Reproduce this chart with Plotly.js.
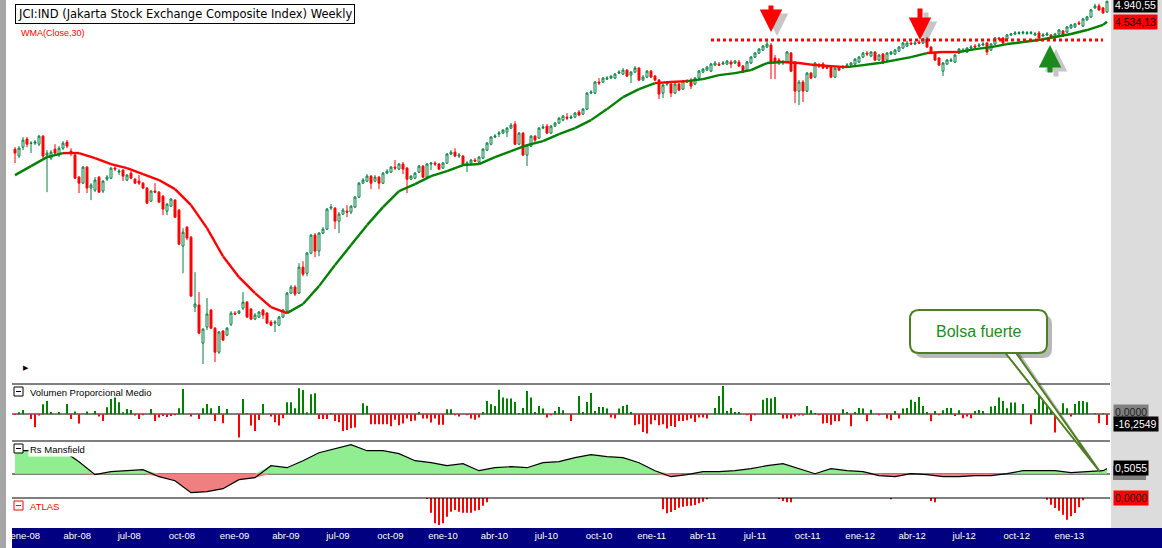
<!DOCTYPE html>
<html><head><meta charset="utf-8">
<script src="https://cdn.plot.ly/plotly-3.0.1.min.js"></script>
<style>html,body{margin:0;padding:0;background:#fff;}#chart{width:1162px;height:548px;}</style>
</head><body><div id="chart"></div>
<script>
// ---------- DATA (weekly) ----------
const firstWeek = '2007-12-14';
const open = [2659,2583,2681,2774,2722,2727,2715,2808,2594,2561,
2659,2594,2670,2739,2637,2594,2365,2306,2466,2259,
2240,2365,2231,2345,2355,2456,2415,2435,2336,2405,
2345,2326,2306,2259,2139,2231,2221,2184,2051,2094,
2148,2060,1772,1918,1839,1372,1384,1180,1262,1355,
1256,1136,1241,1220,1277,1338,1338,1366,1401,1361,
1305,1316,1355,1338,1288,1283,1272,1316,1349,
1455,1492,1455,1622,1581,1720,1855,1735,1871,1902,
2077,2077,1967,2026,2051,2043,2086,2175,2306,2326,
2375,2326,2365,2306,2405,2415,2466,2446,2498,2456,
2345,2355,2415,2477,2365,2498,2508,2498,2456,2508,
2605,2626,2583,2583,2498,2508,2540,2519,2561,2648,
2715,2797,2832,2844,2856,2904,2953,2715,2844,2594,
2693,2808,2785,2904,2928,2844,2928,2966,
3003,3041,3028,3041,3106,3080,3145,3363,3363,3522,
3522,3566,3581,3581,3657,3641,3703,3626,3672,3734,
3551,3596,3687,3611,3551,3363,3493,3493,3363,3493,
3420,3522,3551,3493,3581,3672,3703,3687,3782,3798,
3798,3798,3830,3814,3830,3766,3703,3814,3911,3977,
4027,4078,4112,3895,3862,3814,3830,3977,3830,3391,
3522,3391,3657,3596,3782,3798,3750,3750,3596,3750,
3734,3766,3782,3798,3830,3911,3977,3928,3994,3862,
3960,3862,3960,3960,4010,4061,4095,4147,4130,4165,
4147,4218,4078,3977,3895,3687,3798,3846,3830,3977,
4010,3994,4061,4095,4095,4112,4147,4027,4130,4236,
4236,4218,4290,4308,4318,4322,4316,4320,4290,4326,
4271,4290,4290,4236,4308,4362,4344,4418,4437,4513,
4456,4570,4628,4805,4845,4805,4726];
const high = [2681,2693,2797,2797,2750,2762,2820,2820,2648,2648,
2715,2693,2750,2762,2670,2605,2375,2477,2477,2306,
2365,2375,2336,2385,2466,2477,2446,2446,2395,2425,
2355,2385,2316,2268,2240,2306,2231,2193,2121,2166,
2157,2069,1910,1926,1847,1588,1461,1256,1425,1361,
1262,1241,1246,1262,1349,1349,1355,1461,1407,1366,
1338,1349,1361,1344,1299,1299,1322,1361,1461,
1504,1504,1649,1663,1727,1863,1871,1878,1918,2077,
2112,2086,2043,2077,2103,2103,2184,2316,2355,2395,
2385,2385,2375,2415,2446,2477,2540,2508,2519,2466,
2385,2415,2487,2487,2508,2519,2529,2508,2519,2616,
2648,2670,2616,2594,2529,2551,2561,2583,2670,2739,
2808,2832,2868,2892,2916,2966,2990,2856,2856,2715,
2820,2820,2916,2953,2953,2941,2978,3041,
3067,3093,3067,3106,3132,3159,3377,3405,3536,3581,
3596,3611,3626,3657,3703,3734,3718,3687,3766,3750,
3626,3703,3703,3626,3566,3493,3536,3507,3507,3507,
3551,3566,3581,3596,3703,3734,3766,3814,3846,3830,
3846,3862,3862,3862,3862,3782,3846,3928,3994,4061,
4112,4183,4147,3944,3895,3862,4010,3994,3846,3551,
3551,3672,3672,3830,3814,3830,3782,3766,3766,3766,
3782,3814,3830,3895,3928,3994,4010,4010,4010,3960,
3977,3994,4010,4044,4095,4165,4183,4165,4183,4200,
4236,4253,4095,3994,3911,3830,3878,3895,3960,4061,
4061,4078,4112,4130,4147,4165,4165,4147,4253,4253,
4253,4308,4326,4362,4358,4366,4360,4364,4344,4362,
4326,4344,4308,4326,4399,4380,4456,4494,4513,4551,
4608,4647,4785,4890,4890,4825,4950];
const low = [2508,2561,2648,2681,2616,2704,2693,2561,2221,2540,
2594,2572,2648,2670,2583,2345,2212,2297,2212,2148,
2221,2212,2212,2326,2345,2425,2385,2326,2326,2345,
2297,2287,2249,2112,2130,2212,2121,2017,2017,2086,
1992,1779,1581,1816,1431,1344,1225,1081,1246,1251,
1090,1127,1190,1215,1267,1327,1333,1355,1310,1299,
1299,1310,1305,1277,1267,1236,1267,1310,1344,
1449,1437,1449,1561,1561,1712,1691,1698,1863,1894,
2060,1902,1871,2017,2000,2026,2077,2166,2297,2316,
2249,2316,2249,2297,2395,2405,2435,2435,2395,2212,
2336,2345,2405,2355,2355,2435,2477,2435,2446,2498,
2594,2572,2561,2487,2415,2498,2519,2508,2551,2637,
2704,2785,2797,2832,2797,2892,2704,2704,2583,2477,
2681,2715,2774,2892,2832,2832,2916,2953,
2990,3003,3016,3028,3054,3067,3132,3349,3349,3478,
3507,3551,3566,3566,3641,3626,3596,3507,3657,3536,
3536,3581,3581,3536,3280,3293,3463,3307,3349,3391,
3405,3507,3420,3478,3566,3657,3687,3672,3766,3766,
3782,3782,3734,3798,3750,3657,3687,3798,3895,3960,
4010,4061,3566,3566,3782,3782,3814,3672,3225,3198,
3239,3377,3566,3581,3734,3718,3718,3581,3581,3687,
3718,3750,3766,3782,3814,3895,3928,3911,3846,3846,
3798,3846,3944,3944,3994,4044,4078,4112,4112,4130,
4130,4061,3960,3846,3766,3611,3782,3830,3814,3960,
3994,3977,4044,4061,4078,4095,3944,4010,4112,4200,
4130,4200,4271,4290,4296,4300,4292,4298,4271,4218,
4253,4271,4218,4218,4290,4253,4326,4399,4418,4475,
4437,4551,4608,4785,4745,4687,4706];
const close = [2616,2670,2762,2715,2727,2739,2808,2583,2616,2626,
2616,2670,2727,2693,2616,2355,2306,2466,2259,2287,
2336,2221,2326,2365,2456,2446,2425,2375,2385,2355,
2306,2306,2259,2121,2231,2221,2130,2069,2112,2157,
2000,1786,1878,1832,1437,1390,1230,1251,1333,1256,
1136,1236,1195,1256,1338,1333,1349,1401,1316,1305,
1327,1344,1327,1283,1272,1288,1316,1355,1455,
1492,1449,1622,1575,1720,1855,1735,1871,1902,2069,
2086,1967,2026,2060,2043,2094,2175,2306,2336,2375,
2306,2365,2306,2405,2425,2466,2456,2498,2446,2345,
2375,2405,2477,2365,2498,2508,2498,2446,2508,2605,
2626,2583,2594,2498,2508,2540,2529,2572,2659,2727,
2797,2808,2844,2880,2904,2941,2715,2844,2594,2704,
2808,2762,2904,2916,2844,2928,2966,3028,
3054,3028,3041,3093,3067,3145,3363,3377,3522,3507,
3581,3581,3611,3641,3672,3703,3611,3672,3734,3551,
3596,3687,3596,3551,3349,3478,3507,3363,3493,3405,
3536,3536,3463,3581,3687,3718,3750,3798,3814,3782,
3814,3846,3798,3846,3766,3672,3830,3911,3977,4044,
4095,4130,3830,3830,3814,3830,3994,3687,3391,3522,
3391,3657,3581,3814,3766,3734,3734,3596,3734,3703,
3750,3782,3814,3878,3911,3977,3960,3994,3862,3944,
3814,3977,3994,4027,4078,4147,4147,4130,4147,4147,
4218,4078,3977,3862,3782,3814,3862,3862,3944,4044,
4027,4061,4078,4078,4112,4130,3994,4130,4236,4218,
4147,4290,4308,4326,4333,4340,4330,4336,4308,4236,
4290,4308,4236,4308,4380,4271,4437,4475,4494,4494,
4589,4628,4765,4845,4765,4706,4940.55];

// Volumen Proporcional Medio (weekly)
const volumeRatio = [-1.1,3.0,6.5,0,-7.1,-19.8,-2.0,15.2,20.2,3.5,
0,3.5,0,15.7,-7.1,4.1,-14.1,0,4.1,0,
5.0,-3.5,-10.2,10.6,23.3,25.4,18.2,3.0,8.1,6.5,
-2.0,-7.1,-1.5,0,8.1,-10.2,-5.0,-2.6,-4.1,-2.6,
-1.5,9.1,38.5,0,-3.5,0,-7.1,9.1,15.7,9.1,
-10.2,12.6,-13.7,8.1,0,0,-35.4,23.3,1.1,-17.2,
-25.4,-8.7,15.7,0,-3.5,-12.2,-17.2,-6.1,18.2,18.2,
9.1,39.5,36.9,3.0,30.4,31.9,-7.1,-7.1,-7.1,1.5,
-10.2,-12.2,-25.4,-23.9,-21.3,-20.2,0,16.7,13.2,-15.2,
-15.2,-15.2,-15.2,-15.2,-18.2,-8.1,-16.7,-14.1,-6.5,-10.6,
-9.6,3.5,-6.5,-6.5,-12.6,-6.5,-15.7,-15.7,7.6,7.6,
-1.5,-3.5,0,-1.5,-6.5,-8.1,-5.0,3.5,20.2,15.2,
12.6,37.5,25.4,23.9,23.9,18.7,2.0,9.6,35.4,25.4,
3.5,12.6,8.7,-5.0,-1.5,5.0,11.1,6.1,0,-10.2,
0,27.8,3.5,18.7,32.4,5.0,11.1,11.1,8.7,-5.0,
-6.5,8.7,12.6,14.7,3.5,-16.7,-15.2,-26.9,-29.3,-15.2,
-9.1,-16.7,-15.2,-21.7,-17.8,-19.3,-10.2,-10.2,-9.1,-6.5,
-11.7,-5.0,-5.0,-6.5,0,9.6,27.8,43.0,5.0,9.6,
3.5,3.5,0,-1.5,-10.2,-1.5,0,22.3,24.8,23.9,
26.3,2.0,-6.5,-6.5,-6.5,-3.5,-2.0,-2.0,12.6,6.1,
2.0,-1.5,-14.1,-13.2,-15.7,-10.6,-10.6,7.6,3.5,-18.2,
3.5,9.6,8.7,-10.6,7.1,0,-1.5,0,-6.5,-9.1,
5.0,-6.5,8.7,9.6,22.3,18.7,26.3,12.6,3.5,-10.6,
5.0,-1.5,6.1,9.6,9.6,-2.6,6.1,-6.1,-3.5,-6.1,
5.0,6.5,5.0,0,11.7,12.6,25.4,20.2,9.1,17.8,
17.8,0,15.7,0,-15.2,8.1,28.4,24.3,14.1,9.1,
-27.8,0,16.7,9.1,-3.5,15.7,20.2,20.2,18.2,0,
1.5,-13.7,1.5,-16.2549];

// WMA(Close,30) and Rs Mansfield, read every 4th week (last = final week)
const sampleStep = 4;
const wma30 = [2385,2477,2572,2616,2616,2561,2498,2456,2395,2336,
2249,2103,1910,1698,1555,1455,1372,1338,1390,1498,
1636,1779,1934,2086,2231,2297,2375,2425,2487,2498,
2572,2637,2704,2750,2832,2904,3003,3145,3307,3420,
3507,3522,3536,3566,3626,3657,3703,3814,3830,3814,
3782,3766,3750,3782,3814,3862,3911,3977,3994,3994,
4044,4078,4130,4165,4200,4253,4308,4380,4475,4534.13];
const wmaColourRuns = [['up',3],['down',14],['up',23],['down',2],['up',6],['down',4],['up',5],['down',2],['up',10]];
const rsMansfield = [2.3,2.3,2.3,2.3,1.2,-0.1,0.2,0.3,0.4,-0.3,
-0.7,-1.9,-1.8,-1.5,-0.6,-0.4,0.8,0.6,1.3,2.1,
2.5,2.9,2.3,2.3,2.0,1.3,1.1,0.8,1.0,0.3,
0.6,0.7,0.6,1.1,1.2,1.6,1.9,1.7,1.6,1.1,
0.3,-0.3,-0.1,0.2,0.2,0.3,0.5,0.8,1.0,0.5,
0.0,0.5,0.3,0.2,-0.2,-0.3,0.0,-0.1,-0.3,-0.3,
-0.2,-0.2,0.0,0.3,0.3,0.3,0.1,0.2,0.3,0.5055];

// ATLAS (only weeks with a bar)
const atlasWeeks = [103,104,105,106,107,108,109,110,111,112,113,114,115,116,117,118,
162,163,164,165,166,167,168,169,170,171,172,173,191,192,193,194,219,229,230,
258,259,260,261,262,263,264,265,266,267];
const atlasValues = [-1,-14.7,-25.3,-27,-25.3,-18.7,-13.7,-12,-13.7,-14.7,-14.7,-14.7,-12.7,-12,-7.7,-4.3,
-11.3,-15.3,-14,-12,-9.7,-8.7,-8,-7.7,-7,-5.3,-3.7,-1.3,-1,-3,-4.3,-4.3,-1.3,-3,-4.3,
-1.7,-6.7,-10,-12.7,-16.7,-21.7,-18.3,-15,-9.3,-2.3];

// resistance level drawn as dotted line
const resistanceLevel = 4200;
const resistanceWeeks = [174, 272];

const tickDates = ['2008-01-01','2008-04-01','2008-07-01','2008-10-01','2009-01-01','2009-04-01','2009-07-01','2009-10-01',
'2010-01-01','2010-04-01','2010-07-01','2010-10-01','2011-01-01','2011-04-01','2011-07-01','2011-10-01',
'2012-01-01','2012-04-01','2012-07-01','2012-10-01','2013-01-01'];
const tickLabels = ['ene-08','abr-08','jul-08','oct-08','ene-09','abr-09','jul-09','oct-09',
'ene-10','abr-10','jul-10','oct-10','ene-11','abr-11','jul-11','oct-11',
'ene-12','abr-12','jul-12','oct-12','ene-13'];

// ---------- helpers ----------
const DAY = 86400000;
const t0 = Date.parse(firstWeek + 'T00:00:00Z');
function fmtDate(ms){ return new Date(ms).toISOString().replace('T',' ').replace('Z',''); }
const weeks = close.map((_, i) => fmtDate(t0 + 7 * i * DAY));
function fmtEs(v, d){ const s = Math.abs(v).toFixed(d); let [ip, dp] = s.split('.');
  ip = ip.replace(/\B(?=(\d{3})+(?!\d))/g, '.'); return (v < 0 ? '-' : '') + ip + (dp ? ',' + dp : ''); }
const sampleIdx = wma30.map((_, k) => Math.min(k * sampleStep, close.length - 1));
const sampleDates = sampleIdx.map(i => weeks[i]);

// pixel -> paper helpers (plot area x 12..1110, y 0..528)
const PW = 1098, PH = 528, L = 12;
const X = px => (px - L) / PW;
const Y = py => (PH - py) / PH;

// WMA split into coloured segments
const segColour = [];
wmaColourRuns.forEach(([c, n]) => { for (let j = 0; j < n; j++) segColour.push(c); });
const wUp = {x: [], y: []}, wDn = {x: [], y: []};
for (let k = 0; k < wma30.length - 1; k++) {
  const t = segColour[k] === 'up' ? wUp : wDn;
  t.x.push(sampleDates[k], sampleDates[k + 1], null);
  t.y.push(wma30[k], wma30[k + 1], null);
}

const GREEN = '#008000', RED = '#ff0000';
const traces = [
  {type: 'candlestick', x: weeks, open: open, high: high, low: low, close: close,
   xaxis: 'x', yaxis: 'y', hoverinfo: 'skip', whiskerwidth: 0,
   increasing: {line: {color: '#008040', width: 1}, fillcolor: '#ffffff'},
   decreasing: {line: {color: RED, width: 1}, fillcolor: RED}},
  {type: 'scatter', mode: 'lines', x: wUp.x, y: wUp.y, xaxis: 'x', yaxis: 'y', connectgaps: false,
   line: {color: GREEN, width: 2.4}, hoverinfo: 'skip'},
  {type: 'scatter', mode: 'lines', x: wDn.x, y: wDn.y, xaxis: 'x', yaxis: 'y', connectgaps: false,
   line: {color: RED, width: 2.4}, hoverinfo: 'skip'},
  {type: 'scatter', mode: 'lines', x: resistanceWeeks.map(i => weeks[i]), y: [resistanceLevel, resistanceLevel],
   xaxis: 'x', yaxis: 'y', line: {color: RED, width: 3, dash: 'dot'}, hoverinfo: 'skip'},
  {type: 'bar', x: weeks, y: volumeRatio, xaxis: 'x', yaxis: 'y2', width: 3.5 * DAY,
   marker: {color: volumeRatio.map(v => v >= 0 ? GREEN : RED), line: {width: 0}}, hoverinfo: 'skip'},
  {type: 'scatter', mode: 'lines', x: sampleDates, y: rsMansfield.map(v => Math.max(v, 0)), xaxis: 'x', yaxis: 'y3',
   fill: 'tozeroy', fillcolor: '#90ee90', line: {width: 0, color: 'rgba(0,0,0,0)'}, hoverinfo: 'skip'},
  {type: 'scatter', mode: 'lines', x: sampleDates, y: rsMansfield.map(v => Math.min(v, 0)), xaxis: 'x', yaxis: 'y3',
   fill: 'tozeroy', fillcolor: '#f08080', line: {width: 0, color: 'rgba(0,0,0,0)'}, hoverinfo: 'skip'},
  {type: 'scatter', mode: 'lines', x: sampleDates, y: rsMansfield, xaxis: 'x', yaxis: 'y3',
   line: {color: '#000000', width: 1.2}, hoverinfo: 'skip'},
  {type: 'bar', x: atlasWeeks.map(i => weeks[i]), y: atlasValues, xaxis: 'x', yaxis: 'y4', width: 3.5 * DAY,
   marker: {color: RED, line: {width: 0}}, hoverinfo: 'skip'}
];

const xStart = fmtDate(t0 - 5.25 * DAY), xEnd = fmtDate(t0 + (PW - 3) / 4 * 7 * DAY);
const hidden = {showgrid: false, showticklabels: false, ticks: '', showline: false, zeroline: false, fixedrange: true};

const FONT = 'Liberation Sans, Arial, sans-serif';
function lbl(text, px, py, opts){ return Object.assign({text: text, xref: 'paper', yref: 'paper', x: X(px), y: Y(py),
  xanchor: 'left', yanchor: 'middle', showarrow: false, font: {family: FONT, size: 10, color: '#000'}}, opts || {}); }
function arrow(tipx, tipy, ay, color){ return {text: '', xref: 'paper', yref: 'paper', x: X(tipx), y: Y(tipy), ax: 0, ay: ay,
  showarrow: true, arrowhead: 2, arrowsize: 0.9, arrowwidth: 5, arrowcolor: color, standoff: 0}; }

const lastClose = close[close.length - 1], lastWma = wma30[wma30.length - 1];
const lastVol = volumeRatio[volumeRatio.length - 1], lastRs = rsMansfield[rsMansfield.length - 1];

const annotations = [
  lbl('JCI:IND (Jakarta Stock Exchange Composite Index) Weekly', 15, 14,
      {font: {family: 'DejaVu Sans, Verdana, sans-serif', size: 11.5, color: '#000'}, bordercolor: '#000', borderwidth: 1, borderpad: 2, bgcolor: '#fff'}),
  lbl('WMA(Close,30)', 19, 33, {font: {family: FONT, size: 9, color: RED}}),
  lbl('▶', 21, 368, {font: {family: 'DejaVu Sans', size: 7, color: '#000'}}),
  lbl('Volumen Proporcional Medio', 28, 392, {font: {family: FONT, size: 9.5, color: '#000'}}),
  lbl('Rs Mansfield', 28, 449, {font: {family: FONT, size: 9.5, color: '#000'}, bgcolor: '#fff', borderpad: 1}),
  lbl('ATLAS', 28, 506, {font: {family: FONT, size: 9.5, color: RED}}),
  // right-hand value labels
  lbl(fmtEs(lastClose, 2), 1113, 5, {bgcolor: '#000', borderpad: 1, font: {family: FONT, size: 10.5, color: '#fff'}}),
  lbl(fmtEs(lastWma, 2), 1113, 22, {bgcolor: RED, borderpad: 1, font: {family: FONT, size: 10.5, color: '#000'}}),
  lbl(fmtEs(0, 4), 1113, 412, {bgcolor: '#808080', borderpad: 1, font: {family: FONT, size: 10.5, color: '#202020'}}),
  lbl(fmtEs(lastVol, 4), 1113, 424, {bgcolor: '#000', borderpad: 1, font: {family: FONT, size: 10.5, color: '#fff'}}),
  lbl(fmtEs(lastRs, 4), 1113, 468, {bgcolor: '#000', borderpad: 1, font: {family: FONT, size: 10.5, color: '#fff'}}),
  lbl(fmtEs(0, 4), 1113, 498, {bgcolor: RED, borderpad: 1, font: {family: FONT, size: 10.5, color: '#202020'}}),
  // arrows (shadows first)
  arrow(777, 36, -28, 'rgba(0,0,0,0.22)'),
  arrow(926, 44, -33, 'rgba(0,0,0,0.22)'),
  arrow(1056, 49, 29, 'rgba(0,0,0,0.22)'),
  arrow(771, 32, -28, RED),
  arrow(920, 40, -33, RED),
  arrow(1050, 45, 29, '#1a8a1a'),
  {text: 'Bolsa fuerte', xref: 'paper', yref: 'paper', x: X(978), y: Y(331), xanchor: 'center', yanchor: 'middle',
   showarrow: false, font: {family: FONT, size: 16, color: '#1e8c1e'}}
];

function rr(x0, y0, x1, y1, r){
  return `M${X(x0 + r)},${Y(y0)} L${X(x1 - r)},${Y(y0)} Q${X(x1)},${Y(y0)} ${X(x1)},${Y(y0 + r)} ` +
    `L${X(x1)},${Y(y1 - r)} Q${X(x1)},${Y(y1)} ${X(x1 - r)},${Y(y1)} L${X(x0 + r)},${Y(y1)} ` +
    `Q${X(x0)},${Y(y1)} ${X(x0)},${Y(y1 - r)} L${X(x0)},${Y(y0 + r)} Q${X(x0)},${Y(y0)} ${X(x0 + r)},${Y(y0)} Z`;
}
function poly(pts){ return 'M' + pts.map(p => X(p[0]) + ',' + Y(p[1])).join(' L') + ' Z'; }
function rect(x0, y0, x1, y1, fill, line, layer){ return {type: 'rect', xref: 'paper', yref: 'paper',
  x0: X(x0), x1: X(x1), y0: Y(y1), y1: Y(y0), fillcolor: fill, line: line || {width: 0}, layer: layer || 'above'}; }
function hline(py, x0, x1, color, w){ return {type: 'line', xref: 'paper', yref: 'paper', x0: X(x0), x1: X(x1),
  y0: Y(py), y1: Y(py), line: {color: color, width: w || 1}}; }

const shapes = [
  rect(1111, 0, 1162, 528, '#dcdcdc', null, 'below'),
  rect(12, 528, 1162, 548, '#000080', null, 'below'),
  rect(0, 0, 6, 548, '#a6a6a6', null, 'below'),
  rect(1113, 466, 1146, 480, '#808080', null, 'below'),
  hline(384, 12, 1110, '#000'), hline(441, 12, 1110, '#000'), hline(498, 12, 1110, '#000'),
  // panel icons
  rect(14, 387, 23, 396, '#fff', {color: '#000', width: 1}), hline(391.5, 16, 21, '#000'),
  rect(14, 444, 23, 453, '#fff', {color: '#000', width: 1}), hline(448.5, 16, 21, '#000'),
  rect(14, 501, 23, 510, '#fff', {color: RED, width: 1}), hline(505.5, 16, 21, RED),
  // callout
  {type: 'path', xref: 'paper', yref: 'paper', path: rr(915, 315, 1052, 358, 9), fillcolor: 'rgba(0,0,0,0.28)', line: {width: 0}},
  {type: 'path', xref: 'paper', yref: 'paper', path: poly([[1007, 352], [1104, 476], [1019, 352]]), fillcolor: 'rgba(0,0,0,0.25)', line: {width: 0}},
  {type: 'path', xref: 'paper', yref: 'paper', path: poly([[1003, 350], [1100, 472], [1014, 350]]), fillcolor: '#ffffff', line: {color: '#4e7d22', width: 2}},
  {type: 'path', xref: 'paper', yref: 'paper', path: rr(910, 310, 1047, 353, 9), fillcolor: '#ffffff', line: {color: '#4e7d22', width: 2}}
];

const layout = {
  width: 1162, height: 548, margin: {l: 12, r: 52, t: 0, b: 20, pad: 0},
  paper_bgcolor: '#ffffff', plot_bgcolor: '#ffffff', showlegend: false, hovermode: false, dragmode: false,
  xaxis: {type: 'date', range: [xStart, xEnd], domain: [0, 1], anchor: 'y4', rangeslider: {visible: false},
          tickvals: tickDates, ticktext: tickLabels, ticks: '', showgrid: false, zeroline: false, showline: false,
          tickfont: {family: FONT, size: 9.5, color: '#ffffff'}, fixedrange: true},
  yaxis: Object.assign({}, hidden, {type: 'log', domain: [Y(384), 1], range: [2.99746, 3.69611]}),
  yaxis2: Object.assign({}, hidden, {domain: [Y(441), Y(384)], range: [-40.6, 46.1], zeroline: true, zerolinecolor: '#808080', zerolinewidth: 2}),
  yaxis3: Object.assign({}, hidden, {domain: [Y(498), Y(441)], range: [-2.43, 3.27], zeroline: true, zerolinecolor: '#808080', zerolinewidth: 2}),
  yaxis4: Object.assign({}, hidden, {domain: [0, Y(498)], range: [-30, 0]}),
  annotations: annotations, shapes: shapes
};
Plotly.newPlot('chart', traces, layout, {staticPlot: true, displayModeBar: false});
</script></body></html>
